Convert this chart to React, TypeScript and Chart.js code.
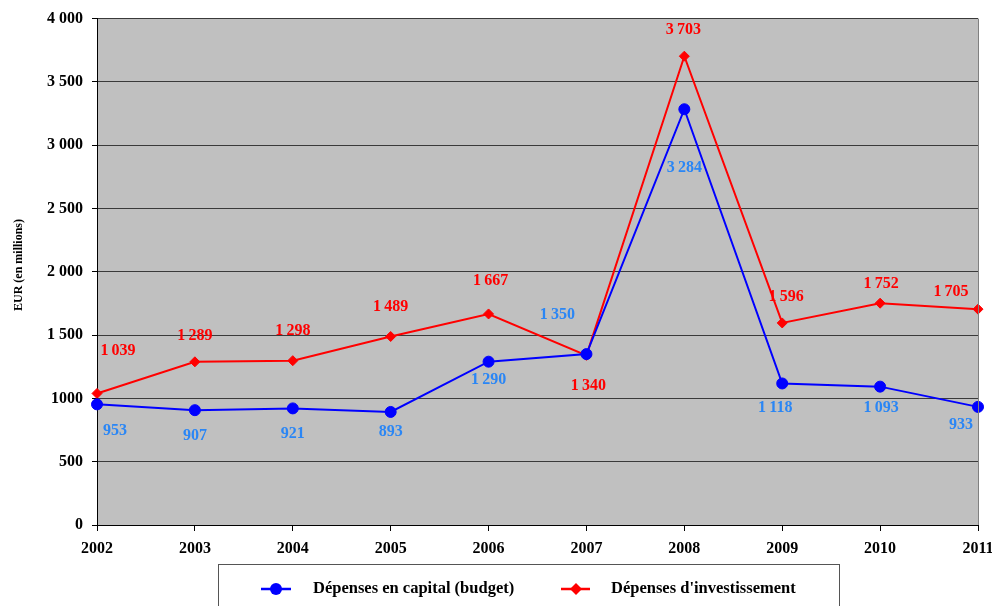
import { useEffect, useRef } from 'react';
import { Chart, registerables } from 'chart.js';

Chart.register(...registerables);

const years = ['2002', '2003', '2004', '2005', '2006', '2007', '2008', '2009', '2010', '2011'];
const capitalBudget = [953, 907, 921, 893, 1290, 1350, 3284, 1118, 1093, 933];
const investment = [1039, 1289, 1298, 1489, 1667, 1340, 3703, 1596, 1752, 1705];
const yTickLabels = ['0', '500', '1000', '1 500', '2 000', '2 500', '3 000', '3 500', '4 000'];
const yTitle = 'EUR (en millions)';

// Pixel offsets of each value label from its point
const capitalLabelOffsets = [[18, 27], [0, 26], [0, 25], [0, 20], [0, 18], [-29, -39], [0, 59], [-7, 24], [1, 21], [-17, 18]];
const investmentLabelOffsets = [[21, -43], [0, -26], [0, -30], [0, -30], [2, -33], [2, 31], [-1, -26], [4, -26], [1, -19], [-27, -17]];

const SERIF = "'Liberation Serif', 'Times New Roman', serif";
const BLUE = '#0000FF';
const RED = '#FF0000';
const BLUE_LABEL = '#2A86F5';

const fmt = (v: number) =>
  v >= 1000 ? Math.floor(v / 1000) + '\u2009' + String(v % 1000).padStart(3, '0') : String(v);

const plotBackground = {
  id: 'plotBackground',
  beforeDraw(chart: any) {
    const { ctx, chartArea: a } = chart;
    ctx.save();
    ctx.fillStyle = '#C0C0C0';
    ctx.fillRect(a.left, a.top, a.right - a.left, a.bottom - a.top);
    ctx.restore();
  },
  afterDraw(chart: any) {
    const { ctx, chartArea: a } = chart;
    ctx.save();
    ctx.strokeStyle = '#808080';
    ctx.lineWidth = 1;
    ctx.beginPath();
    ctx.moveTo(Math.round(a.right) + 0.5, a.top);
    ctx.lineTo(Math.round(a.right) + 0.5, a.bottom);
    ctx.stroke();
    // vertical axis title
    ctx.translate(19, 265);
    ctx.rotate(-Math.PI / 2);
    ctx.font = `bold 12px ${SERIF}`;
    ctx.fillStyle = '#000';
    ctx.textAlign = 'center';
    ctx.textBaseline = 'middle';
    ctx.fillText(yTitle, 0, 0);
    ctx.restore();
  },
};

const valueLabels = {
  id: 'valueLabels',
  afterDatasetsDraw(chart: any) {
    const { ctx } = chart;
    const sets = [
      { values: capitalBudget, offsets: capitalLabelOffsets, color: BLUE_LABEL },
      { values: investment, offsets: investmentLabelOffsets, color: RED },
    ];
    ctx.save();
    ctx.font = `bold 16px ${SERIF}`;
    ctx.textAlign = 'center';
    ctx.textBaseline = 'middle';
    sets.forEach((s, di) => {
      const meta = chart.getDatasetMeta(di);
      meta.data.forEach((pt: any, i: number) => {
        const [dx, dy] = s.offsets[i];
        ctx.fillStyle = s.color;
        ctx.fillText(fmt(s.values[i]), pt.x + dx, pt.y + dy);
      });
    });
    ctx.restore();
  },
};

const boxLegend = {
  id: 'boxLegend',
  afterDraw(chart: any) {
    const { ctx } = chart;
    ctx.save();
    ctx.strokeStyle = '#555555';
    ctx.lineWidth = 1;
    ctx.strokeRect(218.5, 564.5, 621, 50);
    const y = 589;
    ctx.font = `bold 16.5px ${SERIF}`;
    ctx.textBaseline = 'middle';
    ctx.textAlign = 'left';
    // capital budget entry
    ctx.strokeStyle = BLUE;
    ctx.lineWidth = 2.5;
    ctx.beginPath();
    ctx.moveTo(261, y);
    ctx.lineTo(291, y);
    ctx.stroke();
    ctx.fillStyle = BLUE;
    ctx.beginPath();
    ctx.arc(276, y, 6, 0, Math.PI * 2);
    ctx.fill();
    ctx.fillStyle = '#000';
    ctx.fillText(chart.data.datasets[0].label, 313, y);
    // investment entry
    ctx.strokeStyle = RED;
    ctx.beginPath();
    ctx.moveTo(561, y);
    ctx.lineTo(590, y);
    ctx.stroke();
    ctx.fillStyle = RED;
    ctx.beginPath();
    ctx.moveTo(576, y - 6);
    ctx.lineTo(582, y);
    ctx.lineTo(576, y + 6);
    ctx.lineTo(570, y);
    ctx.closePath();
    ctx.fill();
    ctx.fillStyle = '#000';
    ctx.fillText(chart.data.datasets[1].label, 611, y);
    ctx.restore();
  },
};

export default function App() {
  const canvasRef = useRef<HTMLCanvasElement | null>(null);

  useEffect(() => {
    if (!canvasRef.current) return;
    const chart = new Chart(canvasRef.current, {
      type: 'line',
      data: {
        labels: years,
        datasets: [
          {
            label: 'Dépenses en capital (budget)',
            data: capitalBudget,
            borderColor: BLUE,
            backgroundColor: BLUE,
            borderWidth: 2,
            pointStyle: 'circle',
            pointRadius: 5.5,
            pointBorderWidth: 1,
            pointBackgroundColor: BLUE,
            pointBorderColor: BLUE,
            tension: 0,
          },
          {
            label: "Dépenses d'investissement",
            data: investment,
            borderColor: RED,
            backgroundColor: RED,
            borderWidth: 2,
            pointStyle: 'rectRot',
            pointRadius: 5,
            pointBorderWidth: 1,
            pointBackgroundColor: RED,
            pointBorderColor: RED,
            tension: 0,
          },
        ],
      },
      options: {
        responsive: false,
        animation: false,
        layout: { padding: { top: 18, right: 14, left: 0, bottom: 0 } },
        plugins: {
          legend: { display: false },
          tooltip: { enabled: false },
        },
        scales: {
          x: {
            type: 'category',
            offset: false,
            grid: {
              display: true,
              drawOnChartArea: false,
              drawTicks: true,
              tickLength: 6,
              tickColor: '#000',
            },
            border: { display: true, color: '#000', width: 1 },
            ticks: {
              color: '#000',
              font: { family: SERIF, size: 16, weight: 'bold' },
              padding: 8,
              maxRotation: 0,
              autoSkip: false,
            },
            afterFit(scale: any) {
              scale.height = 81;
              scale.paddingLeft = 0;
              scale.paddingRight = 0;
            },
          },
          y: {
            min: 0,
            max: 4000,
            grid: {
              color: '#3a3a3a',
              lineWidth: 1,
              drawTicks: true,
              tickLength: 5,
              tickColor: '#000',
            },
            border: { display: true, color: '#000', width: 1 },
            ticks: {
              stepSize: 500,
              color: '#000',
              font: { family: SERIF, size: 16, weight: 'bold' },
              padding: 9,
              callback: (_v: any, i: number) => yTickLabels[i],
            },
            title: { display: false },
            afterFit(scale: any) {
              scale.width = 97;
            },
          },
        },
      },
      plugins: [plotBackground, valueLabels, boxLegend],
    });
    return () => chart.destroy();
  }, []);

  return (
    <div style={{ position: 'absolute', left: 0, top: 0, width: 992, height: 606, background: '#fff' }}>
      <canvas ref={canvasRef} width={992} height={606} />
    </div>
  );
}
